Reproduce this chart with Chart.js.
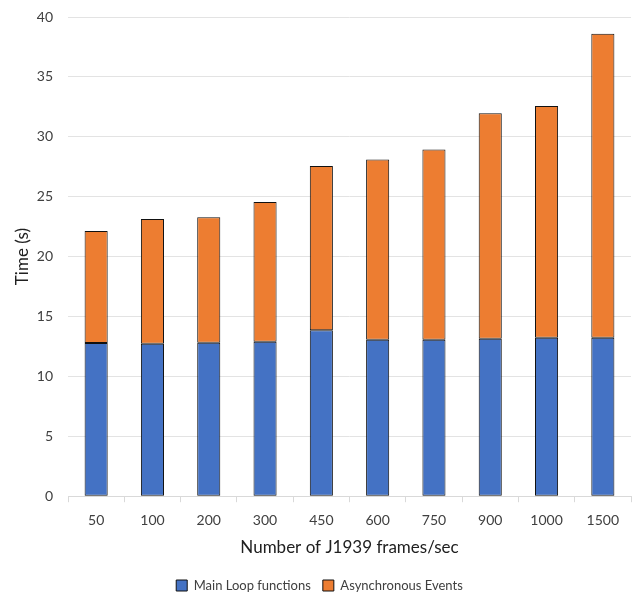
<!DOCTYPE html>
<html>
<head>
<meta charset="utf-8">
<script src="https://cdn.jsdelivr.net/npm/chart.js@4/dist/chart.umd.min.js"></script>
<style>
  html, body { margin: 0; padding: 0; background: #ffffff; }
  #wrap { width: 639px; height: 595px; }
</style>
</head>
<body>
<div id="wrap"><canvas id="chart" width="639" height="595"></canvas></div>
<script>
// Frame rates tested (frames/sec)
const categories = ['50', '100', '200', '300', '450', '600', '750', '900', '1000', '1500'];
// Time spent in the main loop (s)
const mainLoop = [12.78, 12.72, 12.80, 12.89, 13.86, 13.06, 13.06, 13.14, 13.22, 13.22];
// Time spent handling asynchronous events (s)
const asyncEvents = [9.36, 10.42, 10.48, 11.66, 13.70, 15.05, 15.88, 18.83, 19.36, 25.39];
// Y axis range / step
const yTicks = [0, 5, 10, 15, 20, 25, 30, 35, 40];

const FONT = "Lato, 'Open Sans', sans-serif";
const TEXT = '#404040';

new Chart(document.getElementById('chart'), {
  type: 'bar',
  data: {
    labels: categories,
    datasets: [
      {
        label: 'Main Loop functions',
        data: mainLoop,
        backgroundColor: '#4472C4',
        borderColor: '#111111',
        borderWidth: 1,
        borderSkipped: false,
        barPercentage: 0.41,
        categoryPercentage: 1.0
      },
      {
        label: 'Asynchronous Events',
        data: asyncEvents,
        backgroundColor: '#ED7D31',
        borderColor: '#111111',
        borderWidth: 1,
        borderSkipped: false,
        barPercentage: 0.41,
        categoryPercentage: 1.0
      }
    ]
  },
  options: {
    responsive: false,
    animation: false,
    layout: { padding: { top: 0, right: 8, left: 8, bottom: -7 } },
    plugins: {
      tooltip: { enabled: false },
      legend: {
        position: 'bottom',
        labels: {
          boxWidth: 11,
          boxHeight: 11,
          padding: 12,
          color: TEXT,
          font: { family: FONT, size: 13 }
        }
      }
    },
    scales: {
      x: {
        stacked: true,
        grid: {
          display: true,
          offset: true,
          drawOnChartArea: false,
          drawTicks: true,
          tickLength: 6,
          color: '#d9d9d9'
        },
        border: { display: true, color: '#d9d9d9' },
        ticks: { color: TEXT, font: { family: FONT, size: 14 }, padding: 10 },
        title: {
          display: true,
          text: 'Number of J1939 frames/sec',
          color: '#202020',
          font: { family: FONT, size: 17, lineHeight: 1.0 },
          padding: { top: 0, bottom: 11 }
        }
      },
      y: {
        stacked: true,
        min: yTicks[0],
        max: yTicks[yTicks.length - 1],
        afterFit: (scale) => { scale.width = 60; scale.paddingTop = 17; },
        grid: { color: '#e3e3e3', drawTicks: false, lineWidth: 1 },
        border: { display: false },
        ticks: {
          stepSize: yTicks[1] - yTicks[0],
          color: TEXT,
          padding: 15,
          font: { family: FONT, size: 14 }
        },
        title: {
          display: true,
          text: 'Time (s)',
          color: '#202020',
          font: { family: FONT, size: 17 },
          padding: { top: 4, bottom: 0 }
        }
      }
    }
  }
});
</script>
</body>
</html>
